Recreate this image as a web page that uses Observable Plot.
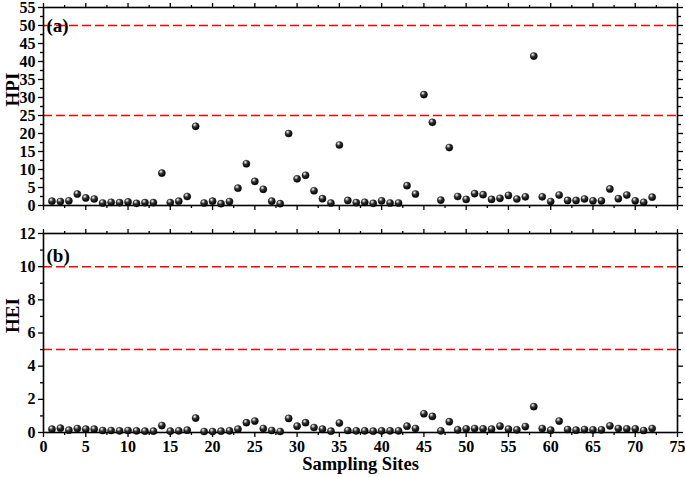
<!DOCTYPE html>
<html><head><meta charset="utf-8">
<script src="https://cdn.jsdelivr.net/npm/d3@7"></script>
<script src="https://cdn.jsdelivr.net/npm/@observablehq/plot@0.6"></script>
<style>
body{margin:0;background:#fff;}
#chart{width:685px;height:477px;}
#chart svg{display:block;}
</style></head><body><div id="chart"></div>
<script>
const sites = [1,2,3,4,5,6,7,8,9,10,11,12,13,14,15,16,17,18,19,20,21,22,23,24,25,26,27,28,29,30,31,32,33,34,35,36,
  37,38,39,40,41,42,43,44,45,46,47,48,49,50,51,52,53,54,55,56,57,58,59,60,61,62,63,64,65,66,67,68,69,70,71,72];
const hpi = [1.2,1.1,1.3,3.2,2.1,1.8,0.7,0.9,0.8,1.0, 0.6,0.8,0.8,9.0,0.8,1.2,2.5,22.0,0.7,1.2,
  0.5,1.1,4.8,11.6,6.7,4.5,1.2,0.5,20.0,7.4, 8.4,4.1,1.9,0.7,16.8,1.4,0.8,0.9,0.6,1.3,
  0.7,0.7,5.5,3.2,30.8,23.1,1.5,16.1,2.5,1.7, 3.3,3.0,1.7,2.0,2.8,1.8,2.4,41.5,2.4,1.1,
  2.9,1.4,1.4,1.8,1.3,1.3,4.6,1.9,2.9,1.3, 0.9,2.3];
const hei = [0.2,0.26,0.14,0.24,0.2,0.2,0.12,0.12,0.1,0.12, 0.1,0.08,0.08,0.42,0.08,0.1,0.14,0.87,0.06,0.06,
  0.08,0.1,0.2,0.59,0.69,0.24,0.12,0.06,0.85,0.38, 0.59,0.3,0.2,0.08,0.57,0.12,0.1,0.1,0.08,0.1,
  0.1,0.1,0.38,0.24,1.13,0.97,0.1,0.65,0.16,0.22, 0.24,0.22,0.2,0.38,0.2,0.16,0.36,1.56,0.24,0.14,
  0.69,0.18,0.14,0.18,0.16,0.16,0.4,0.24,0.22,0.22, 0.12,0.24];
const hpiLimits = [25, 50];
const heiLimits = [5, 10];
const siteTicks = [0,5,10,15,20,25,30,35,40,45,50,55,60,65,70,75];
const siteMinor = [2.5,7.5,12.5,17.5,22.5,27.5,32.5,37.5,42.5,47.5,52.5,57.5,62.5,67.5,72.5];
const hpiTicks = [0,5,10,15,20,25,30,35,40,45,50,55];
const hpiMinor = [2.5,7.5,12.5,17.5,22.5,27.5,32.5,37.5,42.5,47.5,52.5];
const heiTicks = [0,2,4,6,8,10,12];
const heiMinor = [1,3,5,7,9,11];
const panelA = {tag: "(a)", title: "HPI"};
const panelB = {tag: "(b)", title: "HEI"};
const xTitle = "Sampling Sites";

const FONT = "'Liberation Serif','Times New Roman',serif";
const dataA = sites.map((s, i) => ({site: s, v: hpi[i]}));
const dataB = sites.map((s, i) => ({site: s, v: hei[i]}));
const blank = () => "";

function frameAxes(yTicks, yMinor, showXLabels) {
  return [
    Plot.axisY({anchor: "left", ticks: yTicks, tickSize: 5, tickPadding: 3, fontSize: 16, label: null, strokeWidth: 1.3}),
    Plot.axisY({anchor: "left", ticks: yMinor, tickSize: 3, tickFormat: blank, label: null, strokeWidth: 1.3}),
    Plot.axisY({anchor: "right", ticks: yTicks, tickSize: 5, tickFormat: blank, label: null, strokeWidth: 1.3}),
    Plot.axisY({anchor: "right", ticks: yMinor, tickSize: 3, tickFormat: blank, label: null, strokeWidth: 1.3}),
    Plot.axisX({anchor: "bottom", ticks: siteTicks, tickSize: 5, tickPadding: 3, fontSize: 16, tickFormat: showXLabels ? (d => d) : blank, label: null, strokeWidth: 1.3}),
    Plot.axisX({anchor: "bottom", ticks: siteMinor, tickSize: 3, tickFormat: blank, label: null, strokeWidth: 1.3}),
    Plot.axisX({anchor: "top", ticks: siteTicks, tickSize: 5, tickFormat: blank, label: null, strokeWidth: 1.3}),
    Plot.axisX({anchor: "top", ticks: siteMinor, tickSize: 3, tickFormat: blank, label: null, strokeWidth: 1.3}),
    Plot.frame({stroke: "black", strokeWidth: 1.6})
  ];
}

function addBall(svg, id) {
  const ns = "http://www.w3.org/2000/svg";
  const defs = document.createElementNS(ns, "defs");
  defs.innerHTML = `<radialGradient id="${id}" cx="38%" cy="32%" r="68%" fx="35%" fy="28%">
    <stop offset="0%" stop-color="#ffffff"/>
    <stop offset="18%" stop-color="#b0b0b0"/>
    <stop offset="45%" stop-color="#303030"/>
    <stop offset="100%" stop-color="#000000"/>
  </radialGradient>`;
  svg.insertBefore(defs, svg.firstChild);
  d3.select(svg).selectAll("g[aria-label='dot'] circle").attr("fill", `url(#${id})`);
}

const style = {fontFamily: FONT, fontWeight: "bold", color: "black", background: "white", overflow: "visible"};

const chartA = Plot.plot({
  width: 685, height: 219,
  marginLeft: 43, marginRight: 8, marginTop: 7, marginBottom: 14,
  style,
  x: {domain: [0, 75], label: null},
  y: {domain: [0, 55], label: null},
  marks: [
    Plot.ruleY(hpiLimits, {stroke: "#ff0000", strokeWidth: 1.5, strokeDasharray: "9,4"}),
    ...frameAxes(hpiTicks, hpiMinor, false),
    Plot.dot(dataA, {x: "site", y: "v", r: 3.6, fill: "black", stroke: "#000", strokeWidth: 0.4}),
    Plot.text([panelA.tag], {frameAnchor: "top-left", dx: 3, dy: 11, textAnchor: "start", fontSize: 19, fontWeight: "bold"}),
    Plot.text([panelA.title], {frameAnchor: "left", rotate: -90, dx: -31, fontSize: 19, fontWeight: "bold"})
  ]
});
addBall(chartA, "ballA");

const chartB = Plot.plot({
  width: 685, height: 258,
  marginLeft: 43, marginRight: 8, marginTop: 14, marginBottom: 45,
  style,
  x: {domain: [0, 75], label: null},
  y: {domain: [0, 12], label: null},
  marks: [
    Plot.ruleY(heiLimits, {stroke: "#ff0000", strokeWidth: 1.5, strokeDasharray: "9,4"}),
    ...frameAxes(heiTicks, heiMinor, true),
    Plot.dot(dataB, {x: "site", y: "v", r: 3.6, fill: "black", stroke: "#000", strokeWidth: 0.4}),
    Plot.text([panelB.tag], {frameAnchor: "top-left", dx: 3, dy: 15, textAnchor: "start", fontSize: 19, fontWeight: "bold"}),
    Plot.text([panelB.title], {frameAnchor: "left", rotate: -90, dx: -31, fontSize: 19, fontWeight: "bold"}),
    Plot.text([xTitle], {frameAnchor: "bottom", dy: 37, fontSize: 18.5, fontWeight: "bold"})
  ]
});
addBall(chartB, "ballB");

const root = document.getElementById("chart");
root.appendChild(chartA);
root.appendChild(chartB);
</script>
</body></html>
